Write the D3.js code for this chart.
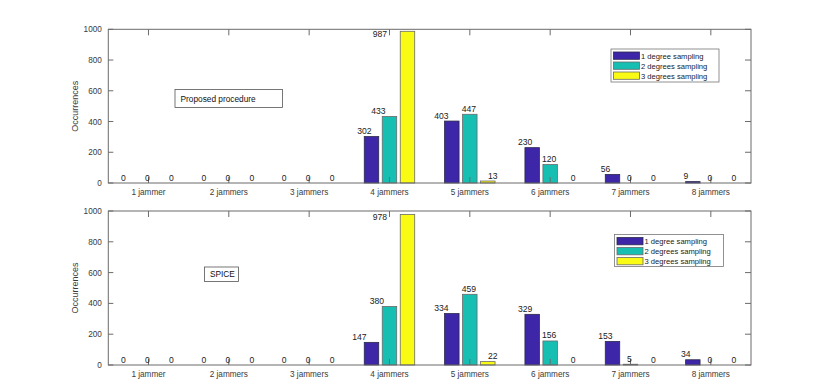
<!DOCTYPE html>
<html>
<head>
<meta charset="utf-8">
<script src="https://cdn.jsdelivr.net/npm/d3@7/dist/d3.min.js"></script>
<style>
  body { margin: 0; background: #fff; }
  svg { display: block; font-family: "Liberation Sans", Arial, sans-serif; }
</style>
</head>
<body>
<svg id="chart" width="830" height="392"></svg>
<script>
/**
 * Jammer count histograms: proposed procedure vs SPICE
 */

var categories = ["1 jammer", "2 jammers", "3 jammers", "4 jammers",
  "5 jammers", "6 jammers", "7 jammers", "8 jammers"];
var seriesNames = ["1 degree sampling", "2 degrees sampling", "3 degrees sampling"];
var seriesColors = ["#3e26a8", "#17bfb2", "#f9fb15"];
var yTicks = [0, 200, 400, 600, 800, 1000];

// proposed procedure
var proposed1 = [0, 0, 0, 302, 403, 230, 56, 9];
var proposed2 = [0, 0, 0, 433, 447, 120, 0, 0];
var proposed3 = [0, 0, 0, 987, 13, 0, 0, 0];

// SPICE
var spice1 = [0, 0, 0, 147, 334, 329, 153, 34];
var spice2 = [0, 0, 0, 380, 459, 156, 5, 0];
var spice3 = [0, 0, 0, 978, 22, 0, 0, 0];

var panels = [
  { title: "Proposed procedure", series: [proposed1, proposed2, proposed3],
    top: 29.3, bottom: 183, box: [175, 89.5, 107.5, 18], legend: [611, 49, 108, 33], nudge: 0 },
  { title: "SPICE", series: [spice1, spice2, spice3],
    top: 211, bottom: 365, box: [204.5, 267, 34, 14.5], legend: [614.5, 234.5, 109, 32], nudge: 1 }
];

var left = 108.3, right = 751;
var axisColor = "#6b6b6b";
var svg = d3.select("#chart");

var x = d3.scaleBand().domain(categories).range([left, right]).padding(0);

/**
 * Horizontal shift of a value label relative to its bar centre
 * (the labels in the original are nudged by hand around the 4/5 jammer groups).
 */
function labelDx(ci, si, nudge) {
  if (si === 0) {
    if (ci === 3) return nudge ? -12 : -7;
    return ci === 4 ? -10.5 : -7;
  }
  if (si === 1) return ci === 3 ? (nudge ? -12.5 : -11) : -1;
  return 5;
}

panels.forEach(function(p) {
  var y = d3.scaleLinear().domain([0, 1000]).range([p.bottom, p.top]);
  var bw = x.bandwidth();
  var barW = bw * 0.18, step = bw * 0.224;
  var g = svg.append("g");

  // bars
  p.series.forEach(function(vals, si) {
    g.selectAll(null).data(vals).enter().append("rect")
      .attr("x", function(d, ci) { return x(categories[ci]) + bw / 2 + (si - 1) * step - barW / 2; })
      .attr("y", function(d) { return y(d); })
      .attr("width", barW)
      .attr("height", function(d) { return y(0) - y(d); })
      .attr("fill", seriesColors[si])
      .attr("stroke", si === 0 ? "#2a2a4a" : "#6a6a6a")
      .attr("stroke-width", 0.8);
  });

  // axis box
  g.append("rect")
    .attr("x", left).attr("y", p.top)
    .attr("width", right - left).attr("height", p.bottom - p.top)
    .attr("fill", "none").attr("stroke", axisColor).attr("stroke-width", 1);

  // x ticks (inward, bottom and top)
  categories.forEach(function(c) {
    var cx = x(c) + bw / 2;
    g.append("line").attr("x1", cx).attr("x2", cx).attr("y1", p.bottom).attr("y2", p.bottom - 6)
      .attr("stroke", axisColor);
    g.append("line").attr("x1", cx).attr("x2", cx).attr("y1", p.top).attr("y2", p.top + 6)
      .attr("stroke", axisColor);
    g.append("text").attr("x", cx).attr("y", p.bottom + 11.5)
      .attr("text-anchor", "middle").attr("font-size", 8.2).attr("fill", "#3a3a3a")
      .text(c);
  });

  // y ticks (inward, left and right)
  yTicks.forEach(function(t) {
    var ty = y(t);
    g.append("line").attr("x1", left).attr("x2", left + 5).attr("y1", ty).attr("y2", ty)
      .attr("stroke", axisColor);
    g.append("line").attr("x1", right).attr("x2", right - 6).attr("y1", ty).attr("y2", ty)
      .attr("stroke", axisColor);
    g.append("text").attr("x", left - 6.5).attr("y", ty + 3)
      .attr("text-anchor", "end").attr("font-size", 8.2).attr("fill", "#3a3a3a")
      .text(t);
  });

  // y axis title
  g.append("text")
    .attr("transform", "translate(78," + ((p.top + p.bottom) / 2) + ") rotate(-90)")
    .attr("text-anchor", "middle").attr("font-size", 9).attr("fill", "#3a3a3a")
    .text("Occurrences");

  // value labels
  p.series.forEach(function(vals, si) {
    vals.forEach(function(v, ci) {
      var cx = x(categories[ci]) + bw / 2 + (si - 1) * step;
      var t = g.append("text").attr("font-size", 8.6).attr("fill", "#222").text(v);
      if (v > 900) {
        // tall bar: label tucked left of the bar, under the top edge
        t.attr("x", x(categories[ci]) + bw / 2 - 2.5).attr("y", y(v) + 5.5)
          .attr("text-anchor", "end");
      } else {
        t.attr("x", cx + labelDx(ci, si, p.nudge)).attr("y", y(v) - 2.5)
          .attr("text-anchor", "middle");
      }
    });
  });

  // annotation box
  g.append("rect")
    .attr("x", p.box[0]).attr("y", p.box[1]).attr("width", p.box[2]).attr("height", p.box[3])
    .attr("fill", "#fff").attr("stroke", "#555").attr("stroke-width", 0.8);
  g.append("text")
    .attr("x", p.box[0] + 5.5).attr("y", p.box[1] + p.box[3] / 2 + 3)
    .attr("font-size", 8.3).attr("fill", "#111")
    .text(p.title);

  // legend
  var lg = p.legend;
  g.append("rect")
    .attr("x", lg[0]).attr("y", lg[1]).attr("width", lg[2]).attr("height", lg[3])
    .attr("fill", "#fff").attr("stroke", "#777").attr("stroke-width", 0.8);
  seriesNames.forEach(function(name, si) {
    var ry = lg[1] + 3 + si * 10;
    g.append("rect")
      .attr("x", lg[0] + 2.5).attr("y", ry).attr("width", 26).attr("height", 7.3)
      .attr("fill", seriesColors[si])
      .attr("stroke", si === 0 ? "#2a2a4a" : "#6a6a6a").attr("stroke-width", 0.8);
    g.append("text")
      .attr("x", lg[0] + 30).attr("y", ry + 6.6)
      .attr("font-size", 7.6).attr("fill", "#222")
      .text(name);
  });
});
</script>
</body>
</html>
